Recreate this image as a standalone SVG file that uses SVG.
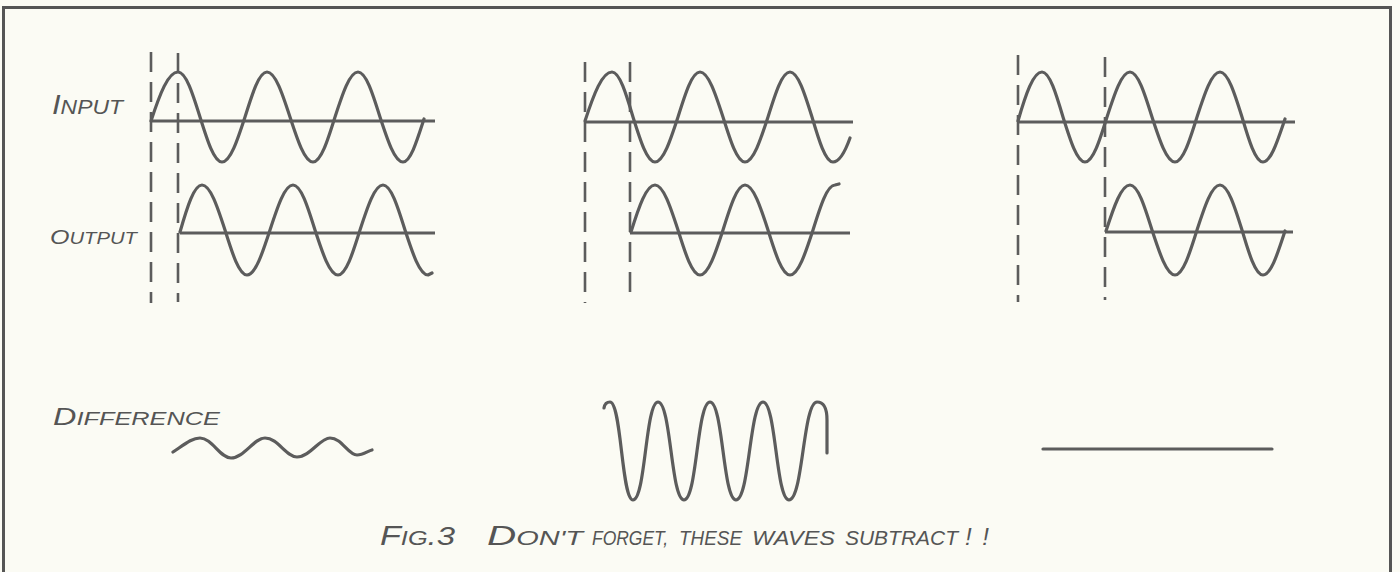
<svg xmlns="http://www.w3.org/2000/svg" width="1400" height="572" viewBox="0 0 1400 572">
<style>
.wave{fill:none;stroke:#5c5c5c;stroke-width:3.2;stroke-linecap:round;stroke-linejoin:round}
.axis{fill:none;stroke:#5c5c5c;stroke-width:3;stroke-linecap:butt}
.dash{fill:none;stroke:#5c5c5c;stroke-width:2.6;stroke-dasharray:20 10}
.lbl{font-family:"Liberation Sans","DejaVu Sans",sans-serif;font-style:italic;fill:#555555}
</style>
<rect x="0" y="0" width="1400" height="572" fill="#fbfbf4"/>
<rect id="frame" x="3.5" y="7.5" width="1387" height="620" fill="none" stroke="#555555" stroke-width="3"/>

<g id="labels" class="lbl">
  <text x="52" y="114" font-size="27" textLength="71" lengthAdjust="spacingAndGlyphs">I<tspan font-size="20">NPUT</tspan></text>
  <text x="50" y="244" font-size="21" textLength="87" lengthAdjust="spacingAndGlyphs">O<tspan font-size="17">UTPUT</tspan></text>
  <text x="53" y="425" font-size="23" textLength="167" lengthAdjust="spacingAndGlyphs">D<tspan font-size="18">IFFERENCE</tspan></text>
</g>

<g id="panel-1">
  <line class="dash" x1="151" y1="52" x2="151" y2="303"/>
  <line class="dash" x1="178" y1="53" x2="178" y2="302"/>
  <line class="axis" x1="151" y1="121" x2="435" y2="121"/>
  <line class="axis" x1="180" y1="233" x2="435" y2="233"/>
  <path class="wave" d="M151,121 C159.8,94 168.2,72 178,72 C186,72 192.8,94 200,117 C207.2,140 214,162 222,162 C230.3,162 237.5,140 245,117 C252.2,94 259,72 267,72 C275.3,72 282.5,94 290,117 C297.5,140 304.7,162 313,162 C321,162 327.8,140 335,117 C342.5,94 349.7,72 358,72 C366,72 372.8,94 380,117 C387.5,140 394.7,162 403,162 C410.6,162 417.2,140 424,119"/>
  <path class="wave" d="M180,232 C187.2,207 194,185 202,185 C210.3,185 217.5,207 225,230 C232.2,253 239,275 247,275 C255.3,275 262.5,253 270,230 C277.5,207 284.7,185 293,185 C301,185 307.8,207 315,230 C322.5,253 329.7,275 338,275 C346,275 352.8,253 360,230 C367.5,207 374.7,185 383,185 C391,185 397.8,207 405,230 C412.5,253 419.7,275 428,275 L432,273"/>
  <path class="wave" d="M173,452 C185,444 192,438 200,438 C212,438 220,458 231,458 C244,458 254,438 265,438 C278,438 286,457 297,457 C310,457 320,438 330,438 C342,438 348,455 357,455 C363,455 368,451 372,450"/>
</g>

<g id="panel-2">
  <line class="dash" x1="585" y1="62" x2="585" y2="303"/>
  <line class="dash" x1="630" y1="62" x2="630" y2="302"/>
  <line class="axis" x1="585" y1="122" x2="853" y2="122"/>
  <line class="axis" x1="630" y1="233" x2="850" y2="233"/>
  <path class="wave" d="M585,121 C593.8,94 602.2,72 612,72 C619.6,72 626.2,94 633,117 C640.2,140 647,162 655,162 C663.3,162 670.5,140 678,117 C685.2,94 692,72 700,72 C708.3,72 715.5,94 723,117 C730.2,140 737,162 745,162 C753.3,162 760.5,140 768,117 C775.2,94 782,72 790,72 C798,72 804.8,94 812,117 C818.8,140 825.4,162 833,162 C839,162 845,152 850,138"/>
  <path class="wave" d="M631,232 C638.8,207 646.3,185 655,185 C663.3,185 670.5,207 678,230 C685.2,253 692,275 700,275 C708.3,275 715.5,253 723,230 C730.2,207 737,185 745,185 C753.3,185 760.5,207 768,230 C775.2,253 782,275 790,275 C798.3,275 805.5,253 813,230 C820.2,207 827,185 835,185 L839,184"/>
  <path class="wave" d="M604,408 Q605,402 610,402 C621.5,402 621.5,500 633,500 C645.5,500 645.5,402 658,402 C671,402 671,500 684,500 C697,500 697,402 710,402 C723,402 723,500 736,500 C749.5,500 749.5,402 763,402 C776,402 776,500 789,500 C803,500 803,402 817,402 C824,402 827,408 827,420 L827,453"/>
</g>

<g id="panel-3">
  <line class="dash" x1="1018" y1="55" x2="1018" y2="302"/>
  <line class="dash" x1="1105" y1="57" x2="1105" y2="300"/>
  <line class="axis" x1="1018" y1="122" x2="1295" y2="122"/>
  <line class="axis" x1="1105" y1="232" x2="1293" y2="232"/>
  <path class="wave" d="M1018,121 C1025.8,94 1033.3,72 1042,72 C1049.6,72 1056.2,94 1063,117 C1070.2,140 1077,162 1085,162 C1093,162 1099.8,140 1107,117 C1114.5,94 1121.7,72 1130,72 C1138,72 1144.8,94 1152,117 C1159.5,140 1166.7,162 1175,162 C1183,162 1189.8,140 1197,117 C1204.5,94 1211.7,72 1220,72 C1228,72 1234.8,94 1242,117 C1248.8,140 1255.4,162 1263,162 C1271,162 1277.8,140 1285,119"/>
  <path class="wave" d="M1106,231 C1113.8,207 1121.3,185 1130,185 C1138,185 1144.8,207 1152,230 C1159.5,253 1166.7,275 1175,275 C1183,275 1189.8,253 1197,230 C1204.5,207 1211.7,185 1220,185 C1228,185 1234.8,207 1242,230 C1248.8,253 1255.4,275 1263,275 C1271,275 1277.8,253 1285,231"/>
  <line class="wave" x1="1043" y1="449" x2="1272" y2="449"/>
</g>

<g id="caption" class="lbl" font-size="20">
  <text x="380" y="545" textLength="75" lengthAdjust="spacingAndGlyphs"><tspan font-size="27">F</tspan>IG<tspan font-size="26">.3</tspan></text>
  <text x="487" y="545" textLength="96" lengthAdjust="spacingAndGlyphs"><tspan font-size="28">D</tspan>ON'T</text>
  <text x="592" y="545" textLength="76" lengthAdjust="spacingAndGlyphs">FORGET,</text>
  <text x="679" y="545" textLength="63" lengthAdjust="spacingAndGlyphs">THESE</text>
  <text x="752" y="545" textLength="83" lengthAdjust="spacingAndGlyphs">WAVES</text>
  <text x="845" y="545" textLength="113" lengthAdjust="spacingAndGlyphs">SUBTRACT</text>
  <text x="965" y="545" font-size="24" textLength="24" lengthAdjust="spacing">!!</text>
</g>
</svg>
